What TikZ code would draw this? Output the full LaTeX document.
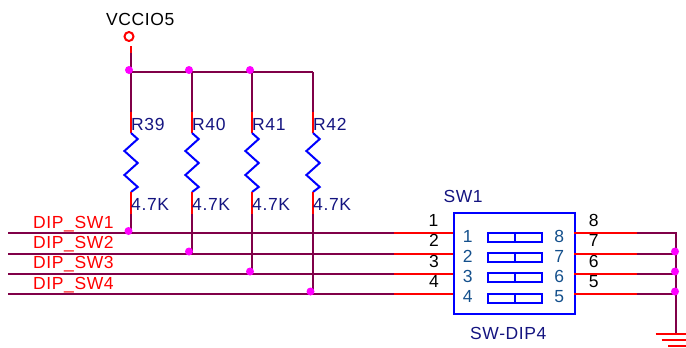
\documentclass[tikz,border=0pt]{standalone}
\usepackage{fontspec}
\setmainfont[LetterSpace=3.5]{Liberation Sans}
\definecolor{wirecol}{RGB}{128,0,72}
\definecolor{refcol}{RGB}{20,20,128}
\definecolor{pincol}{RGB}{20,80,140}
\definecolor{dotcol}{RGB}{255,0,255}
\tikzset{
  wire/.style={wirecol, line width=2pt},
  lead/.style={red, line width=2pt},
  body/.style={blue, line width=2pt},
  junction/.style={circle, fill=dotcol, inner sep=0pt, minimum size=8pt},
  lbl/.style={anchor=base west, inner sep=0pt, font=\fontsize{17.5}{20}\selectfont},
  num/.style={anchor=base, inner sep=0pt, font=\fontsize{17.5}{20}\selectfont},
}
\begin{document}
\begin{tikzpicture}[x=1pt,y=-1pt]
    \useasboundingbox (0,0) rectangle (686,348);

    \node (vcc) [lbl] at (106,25) {VCCIO5};
    \node (vccring) [circle, draw=red, line width=2pt, inner sep=0pt, minimum size=9pt] at (129,36.5) {};
    \coordinate (vccend) at (131,53);
    \coordinate (bus1) at (131,72);
    \coordinate (bus2) at (192,72);
    \coordinate (bus3) at (252,72);
    \coordinate (bus4) at (313,72);
    \draw [lead] (131,46) -- (vccend);
    \draw [wire] (vccend) -- (bus1);
    \draw [wire] (bus1) -- (bus4);

    \coordinate (r39a) at (131,112);  \coordinate (r39b) at (131,133);
    \coordinate (r39c) at (131,192);  \coordinate (r39d) at (131,214);
    \coordinate (r40a) at (192,112);  \coordinate (r40b) at (192,133);
    \coordinate (r40c) at (192,192);  \coordinate (r40d) at (192,214);
    \coordinate (r41a) at (252,112);  \coordinate (r41b) at (252,133);
    \coordinate (r41c) at (252,192);  \coordinate (r41d) at (252,214);
    \coordinate (r42a) at (313,112);  \coordinate (r42b) at (313,133);
    \coordinate (r42c) at (313,192);  \coordinate (r42d) at (313,214);

    \coordinate (sw1l) at (8,233);    \coordinate (sw1m) at (131,233);
    \coordinate (sw2l) at (8,254);    \coordinate (sw2m) at (192,254);
    \coordinate (sw3l) at (8,274);    \coordinate (sw3m) at (252,274);
    \coordinate (sw4l) at (8,294);    \coordinate (sw4m) at (313,294);
    \coordinate (sw1p) at (394,233);  \coordinate (sw1b) at (454,233);
    \coordinate (sw2p) at (394,254);  \coordinate (sw2b) at (454,254);
    \coordinate (sw3p) at (394,274);  \coordinate (sw3b) at (454,274);
    \coordinate (sw4p) at (394,294);  \coordinate (sw4b) at (454,294);

    \draw [wire] (bus1) -- (r39a);
    \draw [wire] (bus2) -- (r40a);
    \draw [wire] (bus3) -- (r41a);
    \draw [wire] (bus4) -- (r42a);
    \draw [lead] (r39a) -- (r39b);
    \draw [lead] (r40a) -- (r40b);
    \draw [lead] (r41a) -- (r41b);
    \draw [lead] (r42a) -- (r42b);
    \draw [body] (r39b) -- ++(6.7,6) -- ++(-13.3,12) -- ++(13.3,12) -- ++(-13.3,12) -- ++(13.3,12) -- (r39c);
    \draw [body] (r40b) -- ++(6.7,6) -- ++(-13.3,12) -- ++(13.3,12) -- ++(-13.3,12) -- ++(13.3,12) -- (r40c);
    \draw [body] (r41b) -- ++(6.7,6) -- ++(-13.3,12) -- ++(13.3,12) -- ++(-13.3,12) -- ++(13.3,12) -- (r41c);
    \draw [body] (r42b) -- ++(6.7,6) -- ++(-13.3,12) -- ++(13.3,12) -- ++(-13.3,12) -- ++(13.3,12) -- (r42c);
    \draw [lead] (r39c) -- (r39d);
    \draw [lead] (r40c) -- (r40d);
    \draw [lead] (r41c) -- (r41d);
    \draw [lead] (r42c) -- (r42d);
    \draw [wire] (r39d) -- (sw1m);
    \draw [wire] (r40d) -- (sw2m);
    \draw [wire] (r41d) -- (sw3m);
    \draw [wire] (r42d) -- (sw4m);

    \draw [wire] (sw1l) -- (sw1p);
    \draw [wire] (sw2l) -- (sw2p);
    \draw [wire] (sw3l) -- (sw3p);
    \draw [wire] (sw4l) -- (sw4p);
    \draw [lead] (sw1p) -- (sw1b);
    \draw [lead] (sw2p) -- (sw2b);
    \draw [lead] (sw3p) -- (sw3b);
    \draw [lead] (sw4p) -- (sw4b);

    \node (r39) [lbl, refcol] at (131,130) {R39};
    \node (r40) [lbl, refcol] at (192,130) {R40};
    \node (r41) [lbl, refcol] at (252,130) {R41};
    \node (r42) [lbl, refcol] at (313,130) {R42};
    \node (v39) [lbl, refcol] at (131,210.7) {4.7K};
    \node (v40) [lbl, refcol] at (192,210.7) {4.7K};
    \node (v41) [lbl, refcol] at (252,210.7) {4.7K};
    \node (v42) [lbl, refcol] at (313,210.7) {4.7K};

    \node (dip1) [lbl, red] at (33,228) {DIP\_SW1};
    \node (dip2) [lbl, red] at (33,248.5) {DIP\_SW2};
    \node (dip3) [lbl, red] at (33,268.5) {DIP\_SW3};
    \node (dip4) [lbl, red] at (33,289) {DIP\_SW4};

    \node (j1) [junction] at (129,70) {};
    \node (j2) [junction] at (189,70) {};
    \node (j3) [junction] at (250,70) {};
    \node (j4) [junction] at (128.5,231) {};
    \node (j5) [junction] at (189,251.5) {};
    \node (j6) [junction] at (250,271.5) {};
    \node (j7) [junction] at (310.5,291.5) {};

    \node (sw) [draw=blue, line width=2pt, minimum width=121pt, minimum height=101pt, inner sep=0pt, anchor=north west] at (453.3,212.3) {};
    \node (swname) [lbl, refcol] at (443.3,202) {SW1};
    \node (swtype) [lbl, refcol] at (470,339) {SW-DIP4};

    \draw [body] (488.3,233) rectangle (542,242);
    \draw [body] (515,233) -- (515,242);
    \draw [body] (488.3,253) rectangle (542,262);
    \draw [body] (515,253) -- (515,262);
    \draw [body] (488.3,273) rectangle (542,282);
    \draw [body] (515,273) -- (515,282);
    \draw [body] (488.3,294) rectangle (542,303);
    \draw [body] (515,294) -- (515,303);

    \node (p1) [num] at (433.5,226) {1};
    \node (p2) [num] at (434,246.5) {2};
    \node (p3) [num] at (434,267) {3};
    \node (p4) [num] at (434,287) {4};
    \node (p8) [num] at (593.7,226) {8};
    \node (p7) [num] at (593.7,246.5) {7};
    \node (p6) [num] at (593.7,267) {6};
    \node (p5) [num] at (593.7,287) {5};
    \node (i1) [num, pincol] at (467.7,242.5) {1};
    \node (i2) [num, pincol] at (467.7,262.5) {2};
    \node (i3) [num, pincol] at (467.7,282.5) {3};
    \node (i4) [num, pincol] at (467.7,302.5) {4};
    \node (i8) [num, pincol] at (559.3,242.5) {8};
    \node (i7) [num, pincol] at (559.3,262.5) {7};
    \node (i6) [num, pincol] at (559.3,282.5) {6};
    \node (i5) [num, pincol] at (559.3,302.5) {5};

    \coordinate (o1a) at (574,233);  \coordinate (o1b) at (637,233);
    \coordinate (o2a) at (574,254);  \coordinate (o2b) at (637,254);
    \coordinate (o3a) at (574,274);  \coordinate (o3b) at (637,274);
    \coordinate (o4a) at (574,294);  \coordinate (o4b) at (637,294);
    \coordinate (gndtop) at (676,233);
    \coordinate (gnd2) at (676,254);
    \coordinate (gnd3) at (676,274);
    \coordinate (gnd4) at (676,294);
    \coordinate (gnd) at (676,334);
    \draw [lead] (o1a) -- (o1b);
    \draw [lead] (o2a) -- (o2b);
    \draw [lead] (o3a) -- (o3b);
    \draw [lead] (o4a) -- (o4b);
    \draw [wire] (o1b) -- (gndtop) -- (gnd);
    \draw [wire] (o2b) -- (gnd2);
    \draw [wire] (o3b) -- (gnd3);
    \draw [wire] (o4b) -- (gnd4);
    \node (j8) [junction] at (675,251.5) {};
    \node (j9) [junction] at (675,271.5) {};
    \node (j10) [junction] at (675,291.5) {};

    \draw [lead] (655.7,334) -- (686,334);
    \draw [lead] (661.7,340) -- (686,340);
    \draw [lead] (668,346) -- (686,346);
\end{tikzpicture}
\end{document}
